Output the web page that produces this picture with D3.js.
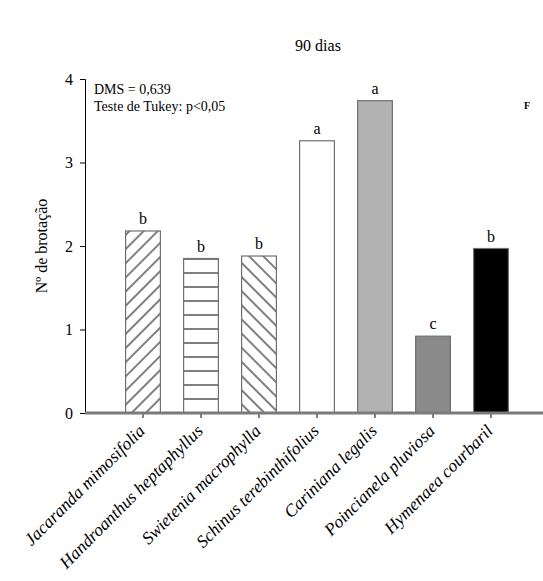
<!DOCTYPE html>
<html>
<head>
<meta charset="utf-8">
<script src="https://cdn.jsdelivr.net/npm/d3@7"></script>
<style>
  body { margin: 0; background: #fff; }
</style>
</head>
<body>
<div id="chart"></div>
<script>
const species = ["Jacaranda mimosifolia", "Handroanthus heptaphyllus", "Swietenia macrophylla",
  "Schinus terebinthifolius", "Cariniana legalis", "Poincianela pluviosa", "Hymenaea courbaril"];
const values = [2.18, 1.85, 1.88, 3.26, 3.74, 0.92, 1.97];
const letters = ["b", "b", "b", "a", "a", "c", "b"];
const fills = ["url(#diagUp)", "url(#horiz)", "url(#diagDown)", "#ffffff", "#b3b3b3", "#8a8a8a", "#000000"];
const yTicks = [0, 1, 2, 3, 4];

const serif = '"Liberation Serif"';
const width = 543, height = 581;
const svg = d3.select("#chart").append("svg")
    .attr("width", width)
    .attr("height", height);

// hachuras
const defs = svg.append("defs");
function hatch(id, size, rot) {
  defs.append("pattern")
      .attr("id", id)
      .attr("patternUnits", "userSpaceOnUse")
      .attr("width", size).attr("height", size)
      .attr("patternTransform", rot ? `rotate(${rot})` : null)
    .call(p => p.append("rect").attr("width", size).attr("height", size).attr("fill", "#fff"))
    .append("path").attr("d", `M0,${size / 2} H${size}`).attr("stroke", "#000").attr("stroke-width", 1);
}
hatch("diagUp", 10, -45);
hatch("diagDown", 10, 45);
hatch("horiz", 14, 0);

const x = d3.scaleBand()
    .domain(species)
    .range([102.4, 531.6])
    .padding(0.4);

const y = d3.scaleLinear()
    .domain([0, 4])
    .range([413, 79]);

// eixo y
const yAxis = svg.append("g")
    .attr("transform", "translate(85,0)")
    .call(d3.axisLeft(y).tickValues(yTicks).tickSize(5).tickPadding(7).tickFormat(d3.format("d")));
yAxis.select(".domain").attr("stroke", "#000");
yAxis.selectAll("text")
    .style("font-family", serif)
    .style("font-size", "16px")
    .style("fill", "#000");

// barras
svg.selectAll(".bar")
    .data(species)
    .enter().append("rect")
    .attr("class", "bar")
    .attr("x", d => x(d))
    .attr("y", (d, i) => y(values[i]))
    .attr("width", x.bandwidth())
    .attr("height", (d, i) => y(0) - y(values[i]))
    .attr("fill", (d, i) => fills[i])
    .attr("stroke", "#707070")
    .attr("stroke-width", 1.2);

// letras de Tukey
svg.selectAll(".letter")
    .data(species)
    .enter().append("text")
    .attr("x", d => x(d) + x.bandwidth() / 2)
    .attr("y", (d, i) => y(values[i]) - 7)
    .attr("text-anchor", "middle")
    .style("font-family", serif)
    .style("font-size", "16px")
    .text((d, i) => letters[i]);

// eixo x
const xAxis = svg.append("g")
    .attr("transform", "translate(0,413)")
    .call(d3.axisBottom(x).tickSize(5).tickFormat(""));
xAxis.select(".domain").remove();
svg.append("line")
    .attr("x1", 85).attr("x2", 543)
    .attr("y1", 413).attr("y2", 413)
    .attr("stroke", "#7a7a7a")
    .attr("stroke-width", 3);

svg.selectAll(".xlab")
    .data(species)
    .enter().append("text")
    .attr("transform", d => `translate(${x(d) + x.bandwidth() / 2 + 3},${432}) rotate(-45)`)
    .attr("text-anchor", "end")
    .style("font-family", serif)
    .style("font-size", "17.5px")
    .style("font-style", "italic")
    .text(d => d);

// textos
svg.append("text")
    .attr("x", 318).attr("y", 51)
    .attr("text-anchor", "middle")
    .style("font-family", serif)
    .style("font-size", "16px")
    .text("90 dias");

svg.append("text")
    .attr("transform", "translate(47,246) rotate(-90)")
    .attr("text-anchor", "middle")
    .style("font-family", serif)
    .style("font-size", "16px")
    .text("Nº de brotação");

svg.append("text")
    .attr("x", 94).attr("y", 94)
    .style("font-family", serif)
    .style("font-size", "14px")
    .text("DMS = 0,639");
svg.append("text")
    .attr("x", 94).attr("y", 111)
    .style("font-family", serif)
    .style("font-size", "14px")
    .text("Teste de Tukey: p<0,05");

svg.append("text")
    .attr("x", 524).attr("y", 109)
    .style("font-family", serif)
    .style("font-size", "10px")
    .style("font-weight", "bold")
    .text("F");
</script>
</body>
</html>
